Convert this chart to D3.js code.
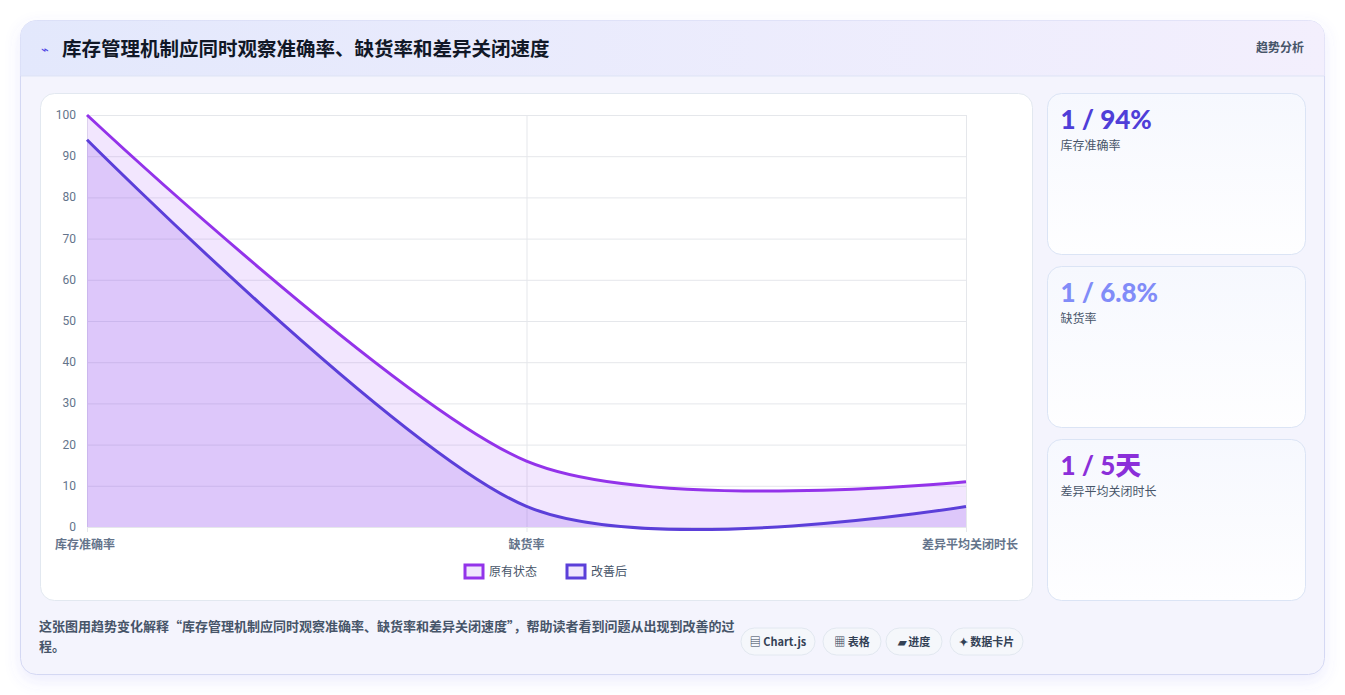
<!DOCTYPE html>
<html><head><meta charset="utf-8">
<script src="https://cdn.jsdelivr.net/npm/d3@7"></script>
<style>
body{margin:0;background:#fff;font-family:"Noto Sans CJK SC","Noto Sans",sans-serif;}
</style></head>
<body><svg id="c" width="1345" height="695"></svg>
<script>
var categories = ["库存准确率", "缺货率", "差异平均关闭时长"]
var seriesNames = ["原有状态", "改善后"]
var original = [100, 16, 11]
var improved = [94, 5, 5]
var yTicks = [0, 10, 20, 30, 40, 50, 60, 70, 80, 90, 100]
var cardValues = ["1 / 94%", "1 / 6.8%", "1 / 5天"]
var cardLabels = ["库存准确率", "缺货率", "差异平均关闭时长"]
var badges = ["▤ Chart.js", "▦ 表格", "▰ 进度", "✦ 数据卡片"]

var svg = d3.select("#c")
var defs = svg.append("defs")
var hg = defs.append("linearGradient").attr("id", "hg")
hg.append("stop").attr("offset", "0").attr("stop-color", "#e3e8fc")
hg.append("stop").attr("offset", "1").attr("stop-color", "#f3effd")
var cg = defs.append("linearGradient").attr("id", "cg").attr("x2", 0).attr("y2", 1)
cg.append("stop").attr("offset", "0").attr("stop-color", "#f6f8fe")
cg.append("stop").attr("offset", "1").attr("stop-color", "#fefeff")
var sh = defs.append("filter").attr("id", "sh").attr("x", -0.1).attr("y", -0.1).attr("width", 1.2).attr("height", 1.2)
sh.append("feDropShadow").attr("dx", 0).attr("dy", 6).attr("stdDeviation", 8).attr("flood-color", "#6366f1").attr("flood-opacity", 0.12)

// outer card
svg.append("rect").attr("x", 20.5).attr("y", 20.5).attr("width", 1304).attr("height", 654).attr("rx", 16)
  .attr("fill", "#f4f4fd").attr("stroke", "#d4d8f3").attr("filter", "url(#sh)")
svg.append("path").attr("d", "M20.5,76 V36.5 a16,16 0 0 1 16,-16 H1308.5 a16,16 0 0 1 16,16 V76 Z").attr("fill", "url(#hg)")
svg.append("line").attr("x1", 21).attr("x2", 1324).attr("y1", 76).attr("y2", 76).attr("stroke", "#dde3f5")
svg.append("text").attr("x", 41).attr("y", 54).attr("font-size", 13).attr("fill", "#4f46e5").text("⌁")
svg.append("text").attr("x", 62).attr("y", 56).attr("font-size", 19.5).attr("font-weight", 700).attr("fill", "#111827")
  .text("库存管理机制应同时观察准确率、缺货率和差异关闭速度")
svg.append("text").attr("x", 1304).attr("y", 52).attr("text-anchor", "end").attr("font-size", 12).attr("font-weight", 600)
  .attr("fill", "#475569").text("趋势分析")

// chart panel
svg.append("rect").attr("x", 40.5).attr("y", 93.5).attr("width", 992).attr("height", 507).attr("rx", 14)
  .attr("fill", "#fff").attr("stroke", "#e2e8f0")

var x = d3.scalePoint().domain(categories).range([87, 966])
var y = d3.scaleLinear().domain([0, 100]).range([527, 115])
var g = svg.append("g")
g.selectAll(".hg").data(yTicks).enter().append("line")
  .attr("x1", 87).attr("x2", 966).attr("y1", d => y(d) + .5).attr("y2", d => y(d) + .5).attr("stroke", "#e5e7eb")
g.selectAll(".vg").data(categories).enter().append("line")
  .attr("x1", d => x(d) + .5).attr("x2", d => x(d) + .5).attr("y1", 115).attr("y2", 532).attr("stroke", "#e5e7eb")
g.selectAll(".yl").data(yTicks).enter().append("text")
  .attr("x", 76).attr("y", d => y(d) + 4).attr("text-anchor", "end").attr("font-size", 12)
  .attr("font-family", "Roboto,sans-serif").attr("fill", "#64748b").text(d => d)
g.selectAll(".xl").data(categories).enter().append("text")
  .attr("x", d => x(d)).attr("y", 549).attr("font-size", 12).attr("font-weight", 600).attr("fill", "#64748b")
  .attr("text-anchor", (d, i) => i == 0 ? "start" : i == 2 ? "end" : "middle")
  .attr("dx", (d, i) => i == 0 ? -32 : i == 2 ? 52 : 0)
  .text(d => d)

var curve = d3.curveCardinal.tension(0.15)
var series = [
  {name: seriesNames[0], data: original, stroke: "#9333ea", fill: "rgba(168,85,247,0.15)"},
  {name: seriesNames[1], data: improved, stroke: "#5b3fd9", fill: "rgba(147,92,235,0.22)"}
]
var area = d3.area().x((d, i) => x(categories[i])).y0(y(0)).y1(d => y(d)).curve(curve)
var line = d3.line().x((d, i) => x(categories[i])).y(d => y(d)).curve(curve)
series.forEach(function(s) {
  g.append("path").attr("d", area(s.data)).attr("fill", s.fill)
})
series.forEach(function(s) {
  g.append("path").attr("d", line(s.data)).attr("fill", "none").attr("stroke", s.stroke).attr("stroke-width", 3)
})

// legend
var lg = svg.append("g").selectAll("g").data(series).enter().append("g")
  .attr("transform", (d, i) => "translate(" + (465 + i * 102) + ",565)")
lg.append("rect").attr("width", 18).attr("height", 13).attr("fill", "#f0e6fd").attr("stroke", d => d.stroke).attr("stroke-width", 3)
lg.append("text").attr("x", 24).attr("y", 11).attr("font-size", 12).attr("fill", "#475569").text(d => d.name)

// side cards
var cardColors = ["#4f3ed8", "#818cf8", "#8b2fd9"]
var cards = svg.append("g").selectAll("g").data(cardValues).enter().append("g")
  .attr("transform", (d, i) => "translate(1047.5," + (93.5 + i * 173) + ")")
cards.append("rect").attr("width", 258).attr("height", 161).attr("rx", 14).attr("fill", "url(#cg)").attr("stroke", "#dbe4f5")
cards.append("text").attr("x", 13).attr("y", 35).attr("font-size", 26).attr("font-weight", 900)
  .attr("font-family", "Lato,'Noto Sans CJK SC',sans-serif").attr("fill", (d, i) => cardColors[i]).text(d => d)
cards.append("text").attr("x", 13).attr("y", 56).attr("font-size", 12).attr("fill", "#475569").text((d, i) => cardLabels[i])

// footer
svg.append("text").attr("x", 39).attr("y", 631).attr("font-size", 13).attr("font-weight", 600).attr("fill", "#475569")
  .text("这张图用趋势变化解释“库存管理机制应同时观察准确率、缺货率和差异关闭速度”，帮助读者看到问题从出现到改善的过")
svg.append("text").attr("x", 39).attr("y", 651).attr("font-size", 13).attr("font-weight", 600).attr("fill", "#475569").text("程。")
var bw = [74, 58, 56, 73], bx = [741, 823, 886, 950]
var bg = svg.append("g").selectAll("g").data(badges).enter().append("g")
  .attr("transform", (d, i) => "translate(" + bx[i] + ",628)")
bg.append("rect").attr("width", (d, i) => bw[i]).attr("height", 27).attr("rx", 13.5).attr("fill", "#f5f7fb").attr("stroke", "#e2e8f0")
bg.append("text").attr("x", (d, i) => bw[i] / 2).attr("y", 18).attr("text-anchor", "middle").attr("font-size", 11)
  .attr("font-weight", 700).attr("fill", "#334155").text(d => d)
</script></body></html>
